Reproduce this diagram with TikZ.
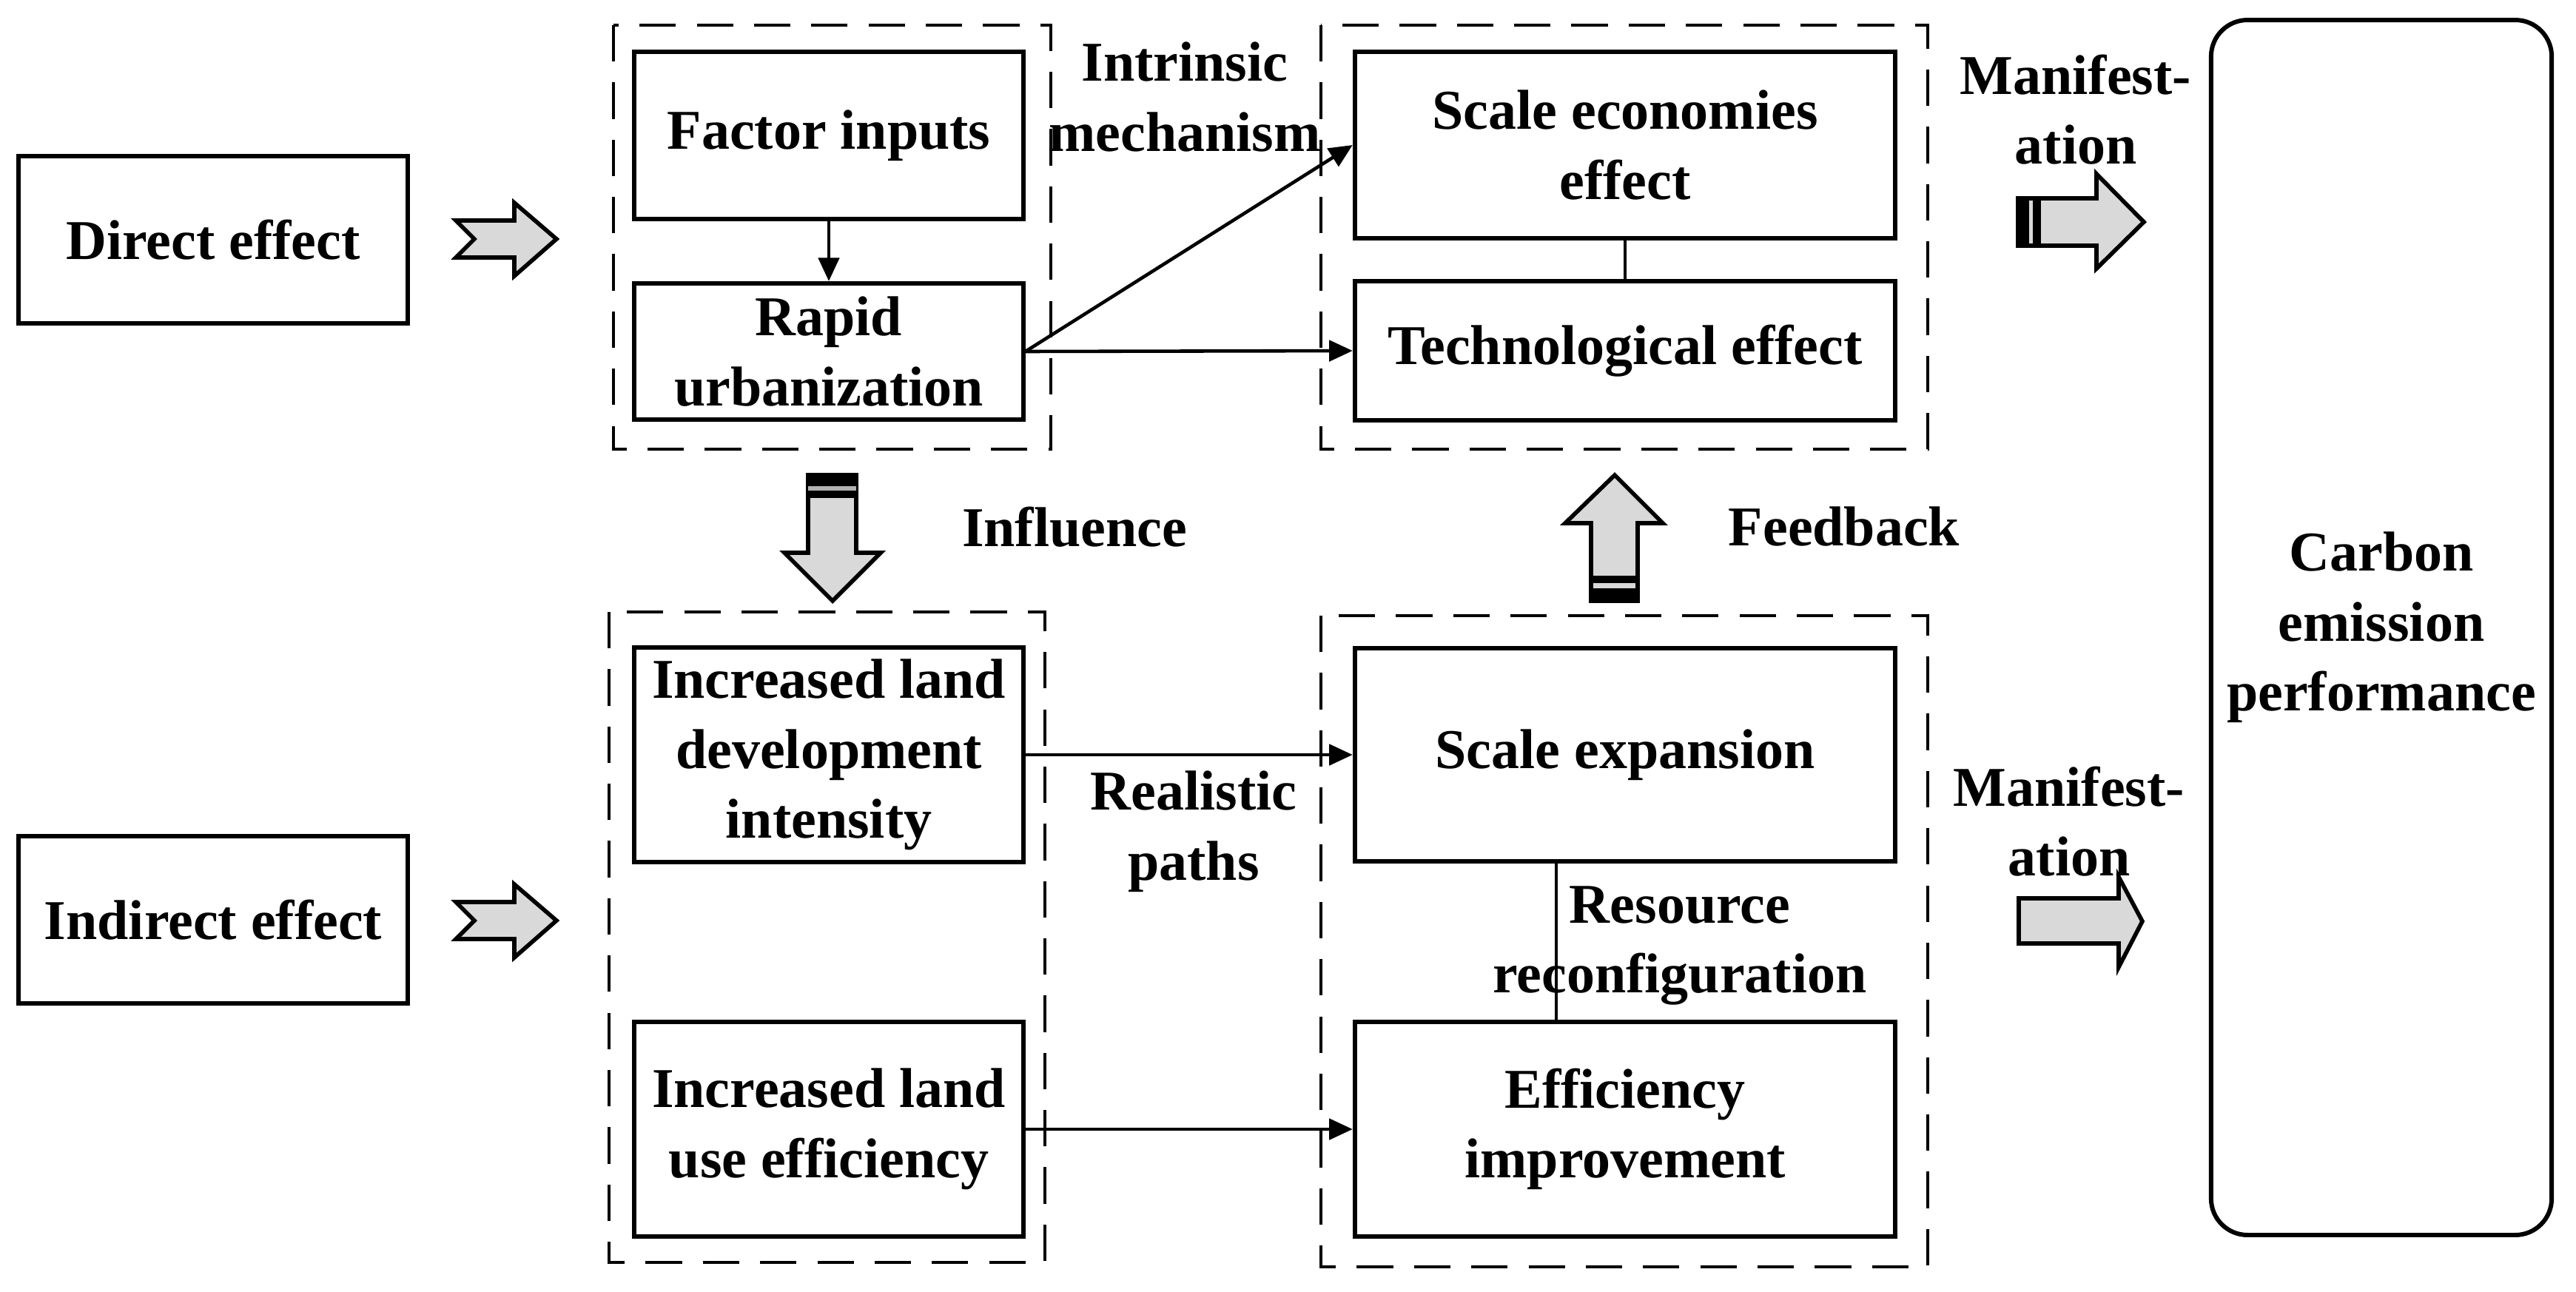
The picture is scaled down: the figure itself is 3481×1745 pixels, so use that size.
\documentclass[tikz,border=0pt]{standalone}
\usepackage{fontspec}
\setmainfont{Liberation Serif}
\usetikzlibrary{arrows.meta}
\tikzset{
  box/.style={draw, line width=1.7pt, align=center, inner sep=2pt},
  group/.style={line width=1.4pt, dash pattern=on 14pt off 8pt},
  link/.style={line width=1.3pt},
  flow/.style={link, -{Triangle[length=9pt,width=8pt]}},
  blockarrow/.style={fill=gray!30, draw=black, line width=1.6pt, line join=miter},
  lbl/.style={align=center, inner sep=0pt}
}

\begin{document}
\begin{tikzpicture}[x=0.01cm, y=-0.01cm, font=\fontsize{21.6}{26.9}\selectfont\bfseries]
\useasboundingbox (0,0) rectangle (3481,1745);

% left column
\node[box, minimum width=5.26cm, minimum height=2.26cm] (direct) at (288,324) {Direct effect};
\node[box, minimum width=5.26cm, minimum height=2.26cm] (indirect) at (288,1243) {Indirect effect};

% mechanism boxes
\node[box, minimum width=5.25cm, minimum height=2.26cm] (factor) at (1120,183) {Factor inputs};
\node[box, minimum width=5.25cm, minimum height=1.84cm] (rapid) at (1120,475) {Rapid\\urbanization};
\node[box, minimum width=7.3cm, minimum height=2.51cm] (scaleeco) at (2196,196) {Scale economies\\effect};
\node[box, minimum width=7.3cm, minimum height=1.87cm] (tech) at (2196,474) {Technological effect};
\node[box, minimum width=5.25cm, minimum height=2.89cm] (landdev) at (1120,1020) {Increased land\\development\\intensity};
\node[box, minimum width=5.25cm, minimum height=2.9cm] (landuse) at (1120,1526) {Increased land\\use efficiency};
\node[box, minimum width=7.3cm, minimum height=2.88cm] (scaleexp) at (2196,1020) {Scale expansion};
\node[box, minimum width=7.3cm, minimum height=2.9cm] (effimp) at (2196,1526) {Efficiency\\improvement};
\node[box, rounded corners=14pt, minimum width=4.6cm, minimum height=16.41cm] (carbon) at (3218,848) {Carbon\\emission\\performance};

% dashed groups
\draw[group] (829,34) rectangle (1420,607);
\draw[group] (823,827) rectangle (1412,1706);
\draw[group] (1785,34) rectangle (2605,607);
\draw[group] (1785,832) rectangle (2605,1712);

% labels
\node[lbl] (intrinsic) at (1601,131) {Intrinsic\\mechanism};
\node[lbl] (influence) at (1452,712) {Influence};
\node[lbl] (feedback) at (2492,712) {Feedback};
\node[lbl] (realistic) at (1613,1124) {Realistic\\paths};
\node[lbl] (resource) at (2270,1278) {Resource\\reconfiguration};
\node[lbl] (manitop) at (2805,148) {Manifest-\\ation};
\node[lbl] (manibot) at (2796,1110) {Manifest-\\ation};

% connectors
\draw[flow] (factor.south) -- (rapid.north);
\draw[flow] (rapid.east) -- (scaleeco.west);
\draw[flow] (rapid.east) -- (tech.west);
\draw[link] (scaleeco.south) -- (tech.north);
\draw[flow] (landdev.east) -- (scaleexp.west);
\draw[flow] (landuse.east) -- (effimp.west);
\coordinate (recon) at ([xshift=-0.93cm]scaleexp.south);
\draw[link] (recon) -- (recon |- effimp.north);

% chevrons
\draw[blockarrow] (616,298) -- (695,298) -- (695,274) -- (752,323) -- (695,373) -- (695,348) -- (616,348) -- (641,323) -- cycle;
\draw[blockarrow] (616,1219) -- (695,1219) -- (695,1195) -- (752,1244) -- (695,1294) -- (695,1269) -- (616,1269) -- (641,1244) -- cycle;

% influence
\draw[blockarrow] (1092,642) -- (1157,642) -- (1157,747) -- (1190,747) -- (1125,812) -- (1060,747) -- (1092,747) -- cycle;
\fill (1092,642) rectangle (1157,657);
\fill[gray!60] (1092,657) rectangle (1157,663);
\fill (1092,663) rectangle (1157,673);

% feedback
\draw[blockarrow] (2150,812) -- (2150,707) -- (2115,707) -- (2182,642) -- (2247,707) -- (2213,707) -- (2213,812) -- cycle;
\fill (2150,778) rectangle (2213,788);
\fill (2150,795) rectangle (2213,812);

% manifestation
\draw[blockarrow] (2727,268) -- (2833,268) -- (2833,235) -- (2897,300) -- (2833,363) -- (2833,332) -- (2727,332) -- cycle;
\fill (2727,268) rectangle (2742,332);
\fill (2747,268) rectangle (2758,332);
\draw[blockarrow] (2728,1214) -- (2863,1214) -- (2863,1185) -- (2895,1245) -- (2863,1307) -- (2863,1275) -- (2728,1275) -- cycle;
\end{tikzpicture}
\end{document}
